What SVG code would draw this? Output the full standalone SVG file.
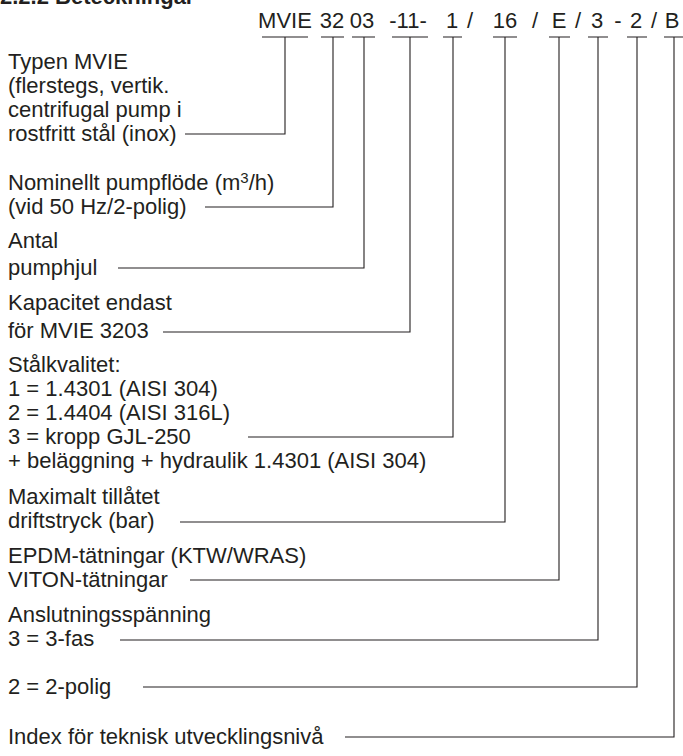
<svg xmlns="http://www.w3.org/2000/svg" width="683" height="756" viewBox="0 0 683 756">
<style>
  .t { font-family: "Liberation Sans", Arial, sans-serif; font-size: 22px; fill: #231f20; }
  .c { font-family: "Liberation Sans", Arial, sans-serif; font-size: 22px; fill: #231f20; text-anchor: middle; }
  .h { font-family: "Liberation Sans", Arial, sans-serif; font-size: 22px; font-weight: bold; fill: #231f20; }
  .ln { fill: none; stroke: #231f20; stroke-width: 1.1; }
</style>
<rect width="683" height="756" fill="#ffffff"/>
<g id="title"><text class="h" x="0" y="4">2.2.2 Beteckningar</text></g>
<g id="code">
  <text class="c" x="285" y="28">MVIE</text>
  <text class="c" x="332" y="28">32</text>
  <text class="c" x="362" y="28">03</text>
  <text class="c" x="408" y="28">-11-</text>
  <text class="c" x="452" y="28">1</text>
  <text class="c" x="470" y="28">/</text>
  <text class="c" x="505" y="28">16</text>
  <text class="c" x="535" y="28">/</text>
  <text class="c" x="559" y="28">E</text>
  <text class="c" x="578" y="28">/</text>
  <text class="c" x="597" y="28">3</text>
  <text class="c" x="618" y="28">-</text>
  <text class="c" x="636" y="28">2</text>
  <text class="c" x="654" y="28">/</text>
  <text class="c" x="672" y="28">B</text>
</g>
<g id="typ"><text class="t" x="8" y="69">Typen MVIE</text><text class="t" x="8" y="93">(flerstegs, vertik.</text><text class="t" x="8" y="117">centrifugal pump i</text><text class="t" x="8" y="141">rostfritt stål (inox)</text></g>
<g id="flode"><text class="t" x="8" y="190">Nominellt pumpflöde (m<tspan font-size="15" dy="-7">3</tspan><tspan dy="7">/h)</tspan></text><text class="t" x="8" y="214">(vid 50 Hz/2-polig)</text></g>
<g id="hjul"><text class="t" x="8" y="248">Antal</text><text class="t" x="8" y="275">pumphjul</text></g>
<g id="kapacitet"><text class="t" x="8" y="310">Kapacitet endast</text><text class="t" x="8" y="338">för MVIE 3203</text></g>
<g id="stal"><text class="t" x="8" y="372">Stålkvalitet:</text><text class="t" x="8" y="396">1 = 1.4301 (AISI 304)</text><text class="t" x="8" y="420">2 = 1.4404 (AISI 316L)</text><text class="t" x="8" y="444">3 = kropp GJL-250</text><text class="t" x="8" y="468">+ beläggning + hydraulik 1.4301 (AISI 304)</text></g>
<g id="tryck"><text class="t" x="8" y="504">Maximalt tillåtet</text><text class="t" x="8" y="528">driftstryck (bar)</text></g>
<g id="tatning"><text class="t" x="8" y="563">EPDM-tätningar (KTW/WRAS)</text><text class="t" x="8" y="587">VITON-tätningar</text></g>
<g id="spanning"><text class="t" x="8" y="622">Anslutningsspänning</text><text class="t" x="8" y="646">3 = 3-fas</text></g>
<g id="polig"><text class="t" x="8" y="694">2 = 2-polig</text></g>
<g id="index"><text class="t" x="8" y="744">Index för teknisk utvecklingsnivå</text></g>
<g id="connectors" class="ln">
  <path d="M262 37H308M285 37V134H185"/>
  <path d="M321 37H344M333 37V207H205"/>
  <path d="M352 37H375M364 37V268H118"/>
  <path d="M392 37H428M410 37V332H163"/>
  <path d="M443 37H462M453 37V437H248"/>
  <path d="M493 37H517M505 37V522H180"/>
  <path d="M549 37H570M559 37V580H190"/>
  <path d="M588 37H608M598 37V640H120"/>
  <path d="M627 37H647M637 37V687H143"/>
  <path d="M664 37H683M674 37V737H345"/>
</g>
</svg>
